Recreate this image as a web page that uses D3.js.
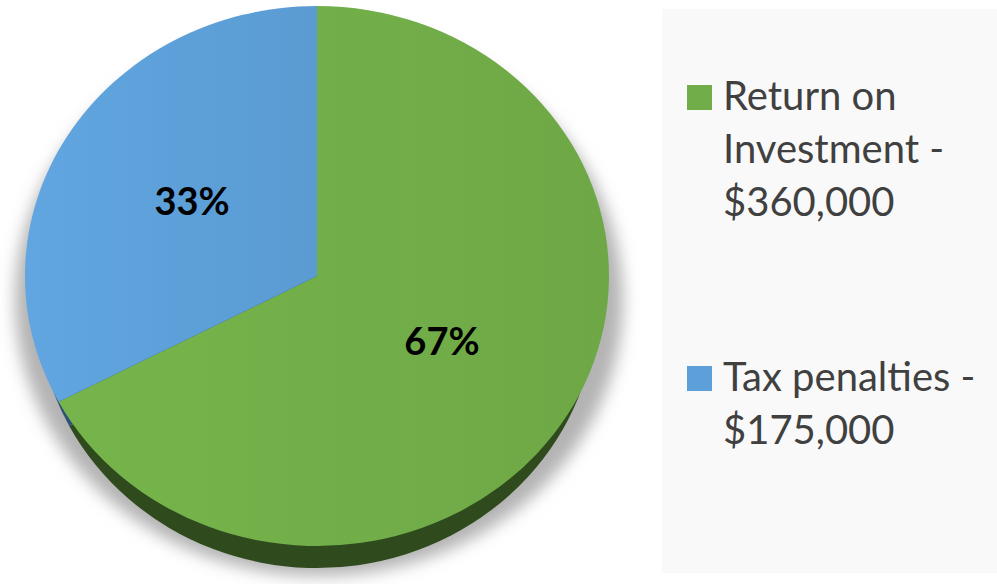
<!DOCTYPE html>
<html>
<head>
<meta charset="utf-8">
<script src="https://cdn.jsdelivr.net/npm/d3@7"></script>
<style>
  body { margin: 0; background: #fff; }
  svg { display: block; }
</style>
</head>
<body>
<div id="chart"></div>
<script>
// data
var categories = ["Return on Investment", "Tax penalties"];
var values = [360000, 175000];
var legend_lines = [["Return on", "Investment -", "$360,000"], ["Tax penalties -", "$175,000"]];
var colors = ["#71ad48", "#5d9fd8"];
var side_colors = ["#2f4b1e", "#2e5276"];

var svg_width = 997;
var svg_height = 584;

var svg = d3.select("#chart")
    .append("svg")
    .attr("width", svg_width)
    .attr("height", svg_height);

var defs = svg.append("defs");

defs.append("filter")
    .attr("id", "shadow")
    .attr("x", "-20%").attr("y", "-20%")
    .attr("width", "140%").attr("height", "140%")
    .append("feGaussianBlur")
    .attr("stdDeviation", 8);

// slight sheen on the slices
colors.forEach(function(c, i) {
    var g = defs.append("linearGradient")
        .attr("id", "grad" + i)
        .attr("x1", "0%").attr("x2", "100%")
        .attr("y1", "0%").attr("y2", "0%");
    g.append("stop").attr("offset", "0%").attr("stop-color", d3.color(c).brighter(0.12));
    g.append("stop").attr("offset", "100%").attr("stop-color", d3.color(c).darker(0.08));
});

// legend panel
svg.append("rect")
    .attr("x", 662)
    .attr("y", 9)
    .attr("width", 335)
    .attr("height", 564)
    .attr("fill", "#f9f9f9");

// pie geometry (ellipse, tilted)
var cx = 317, cy = 276, rx = 292, ry = 270;
// bottom of the side is a bit narrower (perspective)
var side_rx = 280, side_ry = 266, depth = 26;

var pie = d3.pie().sort(null).value(d => d);
var arcs = pie(values);
var arc = d3.arc().innerRadius(0).outerRadius(rx);
var side_arc = d3.arc().innerRadius(0).outerRadius(side_rx);

// shadow
svg.append("ellipse")
    .attr("cx", cx + 2)
    .attr("cy", cy + 24)
    .attr("rx", rx + 12)
    .attr("ry", ry + 6)
    .attr("fill", "#b3b3b3")
    .attr("filter", "url(#shadow)");

// side (depth)
var side = svg.append("g")
    .attr("transform", `translate(${cx}, ${cy + depth}) scale(1, ${side_ry / side_rx})`);
side.selectAll("path")
    .data(arcs)
    .enter()
    .append("path")
    .attr("d", side_arc)
    .attr("fill", (d, i) => side_colors[i]);

// top face
var top_face = svg.append("g")
    .attr("transform", `translate(${cx}, ${cy}) scale(1, ${ry / rx})`);
top_face.selectAll("path")
    .data(arcs)
    .enter()
    .append("path")
    .attr("d", arc)
    .attr("fill", (d, i) => `url(#grad${i})`);

// percent labels
var total = d3.sum(values);
var fmt = d3.format(".0%");
var label_arc = d3.arc().innerRadius(rx * 0.5).outerRadius(rx * 0.5);
svg.append("g")
    .selectAll("text")
    .data(arcs)
    .enter()
    .append("text")
    .attr("x", d => cx + label_arc.centroid(d)[0])
    .attr("y", d => cy + label_arc.centroid(d)[1] * ry / rx + 9)
    .attr("text-anchor", "middle")
    .attr("font-family", "Lato, 'Open Sans', sans-serif")
    .attr("font-weight", "bold")
    .attr("font-size", 38)
    .attr("fill", "#000")
    .text(d => fmt(d.value / total));

// legend
var legend_y = [85, 366];
var legend = svg.append("g");
categories.forEach(function(c, i) {
    legend.append("rect")
        .attr("x", 687)
        .attr("y", legend_y[i])
        .attr("width", 25)
        .attr("height", 25)
        .attr("fill", colors[i]);
    var t = legend.append("text")
        .attr("x", 723)
        .attr("y", legend_y[i] + 25)
        .attr("font-family", "Lato, 'Open Sans', sans-serif")
        .attr("font-size", 40)
        .attr("fill", "#404040");
    legend_lines[i].forEach(function(line, j) {
        t.append("tspan")
            .attr("x", 723)
            .attr("dy", j == 0 ? 0 : 53)
            .text(line);
    });
});
</script>
</body>
</html>
